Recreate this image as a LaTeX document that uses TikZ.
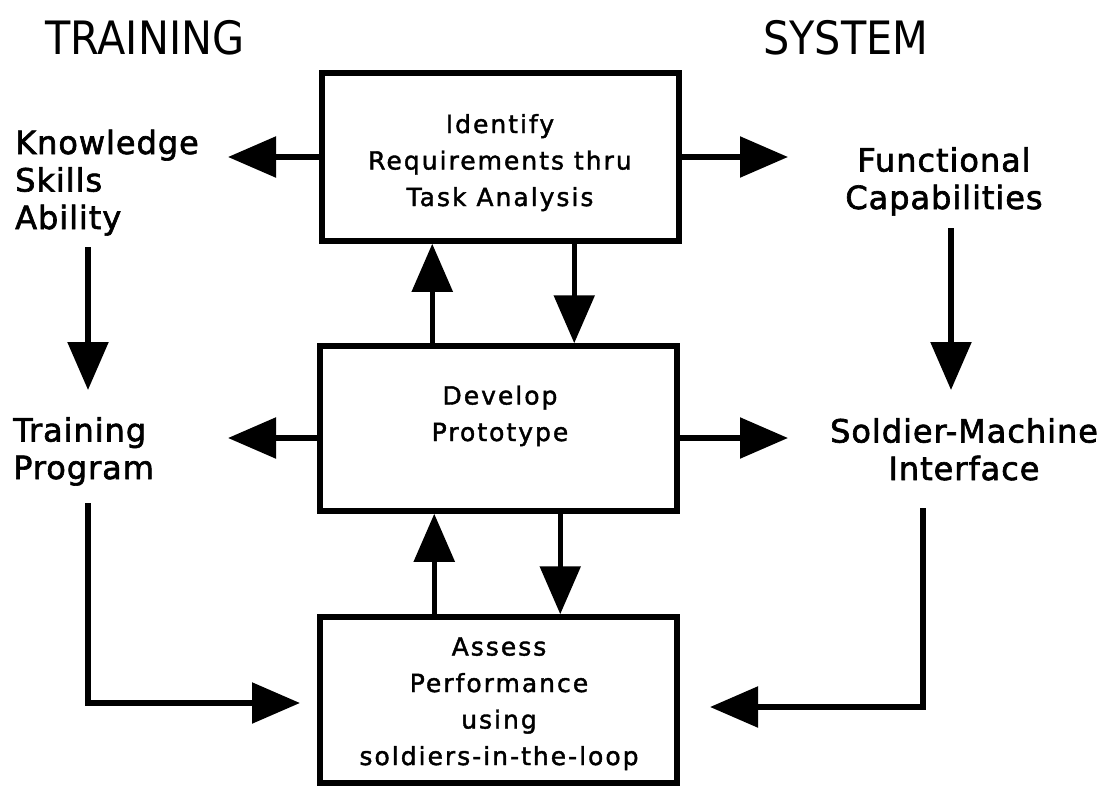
\documentclass[tikz,border=0pt]{standalone}
\usepackage{fontspec}
\setmainfont{DejaVu Sans}
\newfontfamily\boxfont{DejaVu Sans}[LetterSpace=8, FakeBold=1.6]
\newfontfamily\sidefont{DejaVu Sans}[LetterSpace=3, FakeBold=2]
\newfontfamily\headfont{DejaVu Sans}[FakeStretch=0.9]
\usetikzlibrary{arrows.meta}

\begin{document}
\begin{tikzpicture}[x=1pt,y=-1pt,
  stage/.style={draw, line width=5.5pt, inner sep=0pt, minimum width=357pt},
  flow/.style={line width=5.5pt, -{Triangle[length=48pt,width=40pt]}},
  boxtext/.style={font=\boxfont\fontsize{25}{36.5}\selectfont, align=center, inner sep=0pt, anchor=base},
  sidetext/.style={font=\sidefont\fontsize{32}{37.5}\selectfont, inner sep=0pt},
  headtext/.style={font=\headfont\fontsize{46}{50}\selectfont, inner sep=0pt, anchor=base west}]
\useasboundingbox (0,0) rectangle (1114,787);

% the three stages of the process
\node[stage, minimum height=168pt] (ident)  at (500.5,157) {};
\node[stage, minimum height=165pt] (proto)  at (498.5,428.5) {};
\node[stage, minimum height=166pt] (assess) at (498.5,700) {};

% stage captions, placed by the baseline of their last line
\node[boxtext] (identtxt)  at (500,206) {Identify\\Requirements thru\\Task Analysis};
\node[boxtext] (prototxt)  at (500,441) {Develop\\Prototype};
\node[boxtext] (assesstxt) at (499,765) {Assess\\Performance\\using\\soldiers-in-the-loop};

% column headings
\node[headtext] (trainhd) at (45,54)  {TRAINING};
\node[headtext] (syshd)   at (763,54) {SYSTEM};

% training side
\node[sidetext, anchor=base west, align=left] (ksa) at (15,229) {Knowledge\\Skills\\Ability};
\node[sidetext, anchor=base west, align=left] (tp)  at (13,479) {Training\\Program};

% system side
\node[sidetext, anchor=base, align=center] (fc)  at (944,209) {Functional\\Capabilities};
\node[sidetext, anchor=base, align=center] (smi) at (964,480) {Soldier-Machine\\Interface};

% free ends of the connectors
\coordinate (ksaTip)  at (228,157);
\coordinate (fcTip)   at (788,157);
\coordinate (tpTip)   at (228,438);
\coordinate (smiTip)  at (788,438);
\coordinate (ksaFoot) at (88,247);
\coordinate (tpHead)  at (88,390);
\coordinate (fcFoot)  at (951,228);
\coordinate (smiHead) at (951,390);
\coordinate (tpFoot)  at (88,503);
\coordinate (asInL)   at (300,703);
\coordinate (smiFoot) at (923,508);
\coordinate (asInR)   at (710,707);

% outputs of the analysis and of the prototype
\draw[flow] (ident.west) -- (ksaTip);
\draw[flow] (ident.east) -- (fcTip);
\draw[flow] (proto.west |- tpTip) -- (tpTip);
\draw[flow] (proto.east |- smiTip) -- (smiTip);

% iteration between the stages
\draw[flow] ([xshift=115pt]proto.north west) -- ([xshift=113pt]ident.south west);
\draw[flow] ([xshift=255pt]ident.south west) -- ([xshift=257pt]proto.north west);
\draw[flow] ([xshift=117pt]assess.north west) -- ([xshift=117pt]proto.south west);
\draw[flow] ([xshift=243pt]proto.south west) -- ([xshift=243pt]assess.north west);

% side chains
\draw[flow] (ksaFoot) -- (tpHead);
\draw[flow] (fcFoot) -- (smiHead);
\draw[flow] (tpFoot) |- (asInL);
\draw[flow] (smiFoot) |- (asInR);
\end{tikzpicture}
\end{document}
